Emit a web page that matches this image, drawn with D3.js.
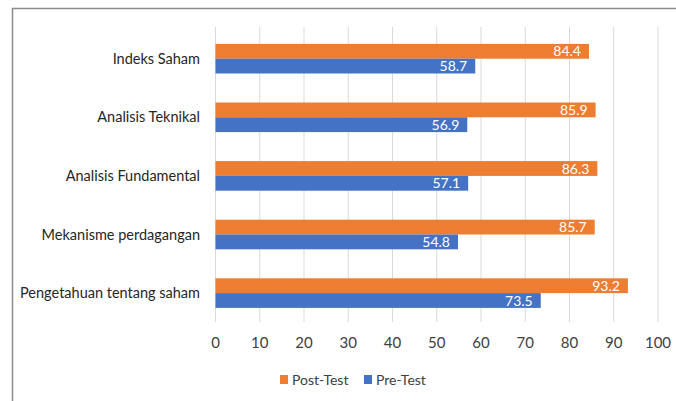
<!DOCTYPE html>
<html>
<head>
<meta charset="utf-8">
<script src="https://cdn.jsdelivr.net/npm/d3@7"></script>
<style>
  body { margin: 0; background: #fff; }
  text { font-family: Lato, "Open Sans", "Liberation Sans", sans-serif; }
</style>
</head>
<body>
<div id="my_dataviz"></div>
<script>
var categories = ["Indeks Saham", "Analisis Teknikal", "Analisis Fundamental", "Mekanisme perdagangan", "Pengetahuan tentang saham"];
var series_names = ["Post-Test", "Pre-Test"];
var post_test = [84.4, 85.9, 86.3, 85.7, 93.2];
var pre_test = [58.7, 56.9, 57.1, 54.8, 73.5];
var x_ticks = [0, 10, 20, 30, 40, 50, 60, 70, 80, 90, 100];

var W = 676, H = 401;
var colors = { "Post-Test": "#ED7D31", "Pre-Test": "#4472C4" };

var svg = d3.select("#my_dataviz")
    .append("svg")
    .attr("width", W)
    .attr("height", H);

// chart frame (only top and left edges visible in the crop)
svg.append("path")
    .attr("d", "M12.5,401 L12.5,8.5 L676,8.5")
    .attr("fill", "none")
    .attr("stroke", "#8c8c8c")
    .attr("stroke-width", 1.5);

var x = d3.scaleLinear()
    .domain([0, 100])
    .range([215.5, 658]);

var y = d3.scaleBand()
    .domain(categories)
    .range([29.4, 322.4])
    .paddingInner(0.495)
    .paddingOuter(0.2475);

var y_inner = d3.scaleBand()
    .domain(series_names)
    .range([0, y.bandwidth()]);

// gridlines
svg.append("g")
    .selectAll("line")
    .data(x_ticks)
    .enter()
    .append("line")
    .attr("x1", function (d) { return x(d) })
    .attr("x2", function (d) { return x(d) })
    .attr("y1", 27)
    .attr("y2", 322)
    .attr("stroke", "#d9d9d9")
    .attr("stroke-width", 1);

// x tick labels
svg.append("g")
    .selectAll("text")
    .data(x_ticks)
    .enter()
    .append("text")
    .attr("x", function (d) { return x(d) })
    .attr("y", 343)
    .attr("dy", "0.35em")
    .attr("text-anchor", "middle")
    .style("font-size", "15px")
    .style("fill", "#404040")
    .text(function (d) { return d; });

// category labels
svg.append("g")
    .selectAll("text")
    .data(categories)
    .enter()
    .append("text")
    .attr("x", 200)
    .attr("y", function (d) { return y(d) + y.bandwidth() / 2 })
    .attr("dy", "0.35em")
    .attr("text-anchor", "end")
    .style("font-size", "14.5px")
    .style("fill", "#262626")
    .text(function (d) { return d; });

var rows = categories.map(function (c, i) {
    return { cat: c, values: [
        { name: "Post-Test", value: post_test[i] },
        { name: "Pre-Test", value: pre_test[i] }
    ] };
});

var groups = svg.append("g")
    .selectAll("g")
    .data(rows)
    .enter()
    .append("g")
    .attr("transform", function (d) { return "translate(0," + y(d.cat) + ")"; });

groups.selectAll("rect")
    .data(function (d) { return d.values })
    .enter()
    .append("rect")
    .attr("x", x(0))
    .attr("y", function (d) { return y_inner(d.name) })
    .attr("width", function (d) { return x(d.value) - x(0) })
    .attr("height", y_inner.bandwidth())
    .attr("fill", function (d) { return colors[d.name] });

groups.selectAll("text")
    .data(function (d) { return d.values })
    .enter()
    .append("text")
    .attr("x", function (d) { return x(d.value) - 8 })
    .attr("y", function (d) { return y_inner(d.name) + y_inner.bandwidth() / 2 })
    .attr("dy", "0.36em")
    .attr("text-anchor", "end")
    .style("font-size", "14px")
    .style("fill", "#ffffff")
    .text(function (d) { return d.value.toFixed(1); });

// legend
var legend_x = [280, 364];
var legend = svg.append("g")
    .selectAll("g")
    .data(series_names)
    .enter()
    .append("g")
    .attr("transform", function (d, i) { return "translate(" + legend_x[i] + ",375)"; });

legend.append("rect")
    .attr("width", 8)
    .attr("height", 9)
    .attr("fill", function (d) { return colors[d] });

legend.append("text")
    .attr("x", 12)
    .attr("y", 4.5)
    .attr("dy", "0.36em")
    .style("font-size", "14px")
    .style("fill", "#404040")
    .text(function (d) { return d; });
</script>
</body>
</html>
